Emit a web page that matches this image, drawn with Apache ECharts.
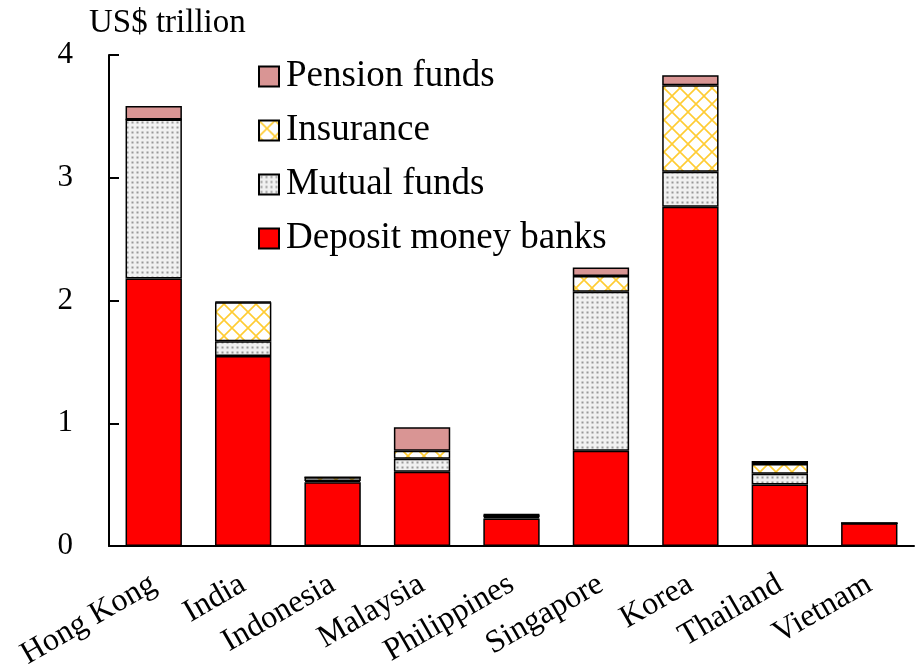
<!DOCTYPE html>
<html>
<head>
<meta charset="utf-8">
<script src="https://cdn.jsdelivr.net/npm/echarts@6/dist/echarts.min.js"></script>
<style>
  html, body { margin: 0; padding: 0; background: #fff; }
  #chart { width: 922px; height: 666px; }
</style>
</head>
<body>
<div id="chart"></div>
<script>
// categories
var countries = ['Hong Kong', 'India', 'Indonesia', 'Malaysia', 'Philippines', 'Singapore', 'Korea', 'Thailand', 'Vietnam']
// US$ trillion
var depositBanks = [2.18, 1.547, 0.52, 0.605, 0.225, 0.776, 2.763, 0.502, 0.185]
var mutualFunds = [1.295, 0.122, 0.01, 0.106, 0.01, 1.295, 0.285, 0.087, 0]
var insurance = [0, 0.316, 0.03, 0.065, 0.02, 0.128, 0.706, 0.079, 0]
var pensionFunds = [0.109, 0.005, 0, 0.191, 0.005, 0.07, 0.082, 0.024, 0]
var yTicks = [0, 1, 2, 3, 4]

var FONT = '"Liberation Serif", "Times New Roman", serif'

// dotted fill for mutual funds
function dotPattern() {
  var c = document.createElement('canvas')
  c.width = 5
  c.height = 5
  var ctx = c.getContext('2d')
  ctx.fillStyle = '#f1f1f1'
  ctx.fillRect(0, 0, 5, 5)
  ctx.fillStyle = '#999'
  ctx.fillRect(1.5, 1.5, 2, 2)
  return { image: c, repeat: 'repeat' }
}

// yellow cross-hatch for insurance
function hatchPattern() {
  var s = 16
  var c = document.createElement('canvas')
  c.width = s
  c.height = s
  var ctx = c.getContext('2d')
  ctx.fillStyle = '#fff'
  ctx.fillRect(0, 0, s, s)
  ctx.strokeStyle = '#ffcc33'
  ctx.lineWidth = 1.6
  ctx.beginPath()
  ctx.moveTo(0, 0); ctx.lineTo(s, s)
  ctx.moveTo(s, 0); ctx.lineTo(0, s)
  ctx.stroke()
  return { image: c, repeat: 'repeat' }
}

function barSeries(name, data, color) {
  return {
    name: name,
    type: 'bar',
    stack: 'total',
    barWidth: '63%',
    data: data,
    itemStyle: {
      color: color,
      borderColor: '#000',
      borderWidth: 1.5
    }
  }
}

var chart = echarts.init(document.getElementById('chart'))

chart.setOption({
  animation: false,
  textStyle: { fontFamily: FONT, color: '#000' },
  title: {
    text: 'US$ trillion',
    left: 84,
    top: 2,
    textStyle: { fontFamily: FONT, fontSize: 33, fontWeight: 'normal', color: '#000' }
  },
  legend: {
    orient: 'vertical',
    left: 258,
    top: 58,
    padding: 0,
    itemWidth: 20,
    itemHeight: 20,
    itemGap: 17,
    icon: 'rect',
    data: ['Pension funds', 'Insurance', 'Mutual funds', 'Deposit money banks'],
    textStyle: { fontFamily: FONT, fontSize: 37, lineHeight: 37, color: '#000', padding: [0, 0, 0, 2] }
  },
  grid: { left: 109, right: 8, top: 55, bottom: 120, containLabel: false, outerBoundsMode: 'none' },
  xAxis: {
    type: 'category',
    data: countries,
    axisLine: { lineStyle: { color: '#000', width: 2 } },
    axisTick: { inside: true, length: 10, lineStyle: { color: '#000', width: 2 } },
    axisLabel: { rotate: 30, fontFamily: FONT, fontSize: 32, color: '#000', margin: 36, interval: 0 }
  },
  yAxis: {
    type: 'value',
    min: yTicks[0],
    max: yTicks[yTicks.length - 1],
    interval: 1,
    splitLine: { show: false },
    axisLine: { show: true, lineStyle: { color: '#000', width: 2 } },
    axisTick: { show: true, inside: true, length: 10, lineStyle: { color: '#000', width: 2 } },
    axisLabel: { fontFamily: FONT, fontSize: 31, color: '#000', margin: 36 }
  },
  series: [
    barSeries('Deposit money banks', depositBanks, '#ff0000'),
    barSeries('Mutual funds', mutualFunds, dotPattern()),
    barSeries('Insurance', insurance, hatchPattern()),
    barSeries('Pension funds', pensionFunds, '#d99594')
  ]
})
</script>
</body>
</html>
